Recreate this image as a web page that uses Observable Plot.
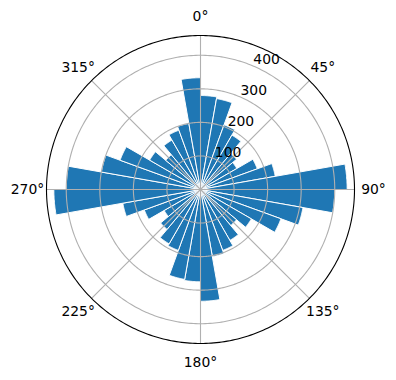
<!DOCTYPE html>
<html>
<head>
<meta charset="utf-8">
<script src="https://cdn.jsdelivr.net/npm/d3@7"></script>
<script src="https://cdn.jsdelivr.net/npm/@observablehq/plot@0.6"></script>
<style>
  html, body { margin: 0; padding: 0; background: #fff; }
  #chart { width: 396px; height: 380px; }
</style>
</head>
<body>
<div id="chart"></div>
<script>
// ---- data ----
// bar centre directions, degrees clockwise from north
const barAngles = [5, 15, 25, 35, 45, 55, 65, 75, 85,
                   95, 105, 115, 125, 135, 145, 155, 165, 175,
                   185, 195, 205, 215, 225, 235, 245, 255, 265,
                   275, 285, 295, 305, 315, 325, 335, 345, 355];
const barValues = [280, 275, 205, 187, 140, 125, 180, 226, 437,
                   400, 310, 255, 175, 140, 175, 193, 203, 333,
                   275, 272, 193, 187, 155, 125, 178, 235, 437,
                   400, 300, 255, 175, 135, 170, 188, 200, 333];
const barWidthDeg = 10;
const radialTicks = [100, 200, 300, 400];
const radialTickLabels = ["100", "200", "300", "400"];
const angleTicks = [0, 45, 90, 135, 180, 225, 270, 315];
const angleTickLabels = ["0°", "45°", "90°", "135°", "180°", "225°", "270°", "315°"];
const radialLabelAngle = 22.5;

// ---- geometry helpers (polar -> cartesian data space) ----
const rMax = d3.max(barValues) * 1.05;
const rad = d => d * Math.PI / 180;
const polar = (r, deg) => ({x: r * Math.sin(rad(deg)), y: r * Math.cos(rad(deg))});

const barPts = barAngles.flatMap((a, i) => {
  const v = barValues[i];
  const pts = [{...polar(0, a), bar: i}];
  for (let t = a - barWidthDeg / 2; t <= a + barWidthDeg / 2 + 1e-9; t += 0.5) {
    pts.push({...polar(v, t), bar: i});
  }
  pts.push({...polar(0, a), bar: i});
  return pts;
});

const circle = (r, key) => d3.range(0, 361, 1).map(t => ({...polar(r, t), key}));
const ringPts = radialTicks.flatMap(r => circle(r, r));
const outerPts = circle(rMax, "outer");
const spokes = angleTicks.map(a => ({x1: 0, y1: 0, x2: polar(rMax, a).x, y2: polar(rMax, a).y}));
const angleLabelData = angleTicks.map((a, i) => ({...polar(rMax * 1.1234, a), label: angleTickLabels[i]}));
const radialLabelData = radialTicks.map((r, i) => ({...polar(r, radialLabelAngle), label: radialTickLabels[i]}));

const cx = 200, cy = 189, R = 154;

const chart = Plot.plot({
  width: 396,
  height: 380,
  marginTop: 0, marginBottom: 0, marginLeft: 0, marginRight: 0,
  style: {fontFamily: "DejaVu Sans", fontSize: "13.9px", background: "#fff"},
  x: {domain: [-rMax, rMax], range: [cx - R, cx + R], axis: null},
  y: {domain: [-rMax, rMax], range: [cy + R, cy - R], axis: null},
  marks: [
    Plot.line(barPts, {x: "x", y: "y", z: "bar", fill: "#1f77b4", stroke: "#ffffff", strokeWidth: 1, curve: "linear", strokeLinejoin: "miter"}),
    Plot.line(ringPts, {x: "x", y: "y", z: "key", stroke: "#b0b0b0", strokeWidth: 1.1, curve: "linear"}),
    Plot.link(spokes, {x1: "x1", y1: "y1", x2: "x2", y2: "y2", stroke: "#b0b0b0", strokeWidth: 1.1}),
    Plot.line(outerPts, {x: "x", y: "y", stroke: "#000000", strokeWidth: 1.1, curve: "linear"}),
    Plot.text(angleLabelData, {x: "x", y: "y", text: "label", fill: "#000", fontSize: 13.9, textAnchor: "middle"}),
    Plot.text(radialLabelData, {x: "x", y: "y", text: "label", fill: "#000", fontSize: 13.9, textAnchor: "start", dx: 1.5, dy: -5.5})
  ]
});
document.getElementById("chart").appendChild(chart);
</script>
</body>
</html>
